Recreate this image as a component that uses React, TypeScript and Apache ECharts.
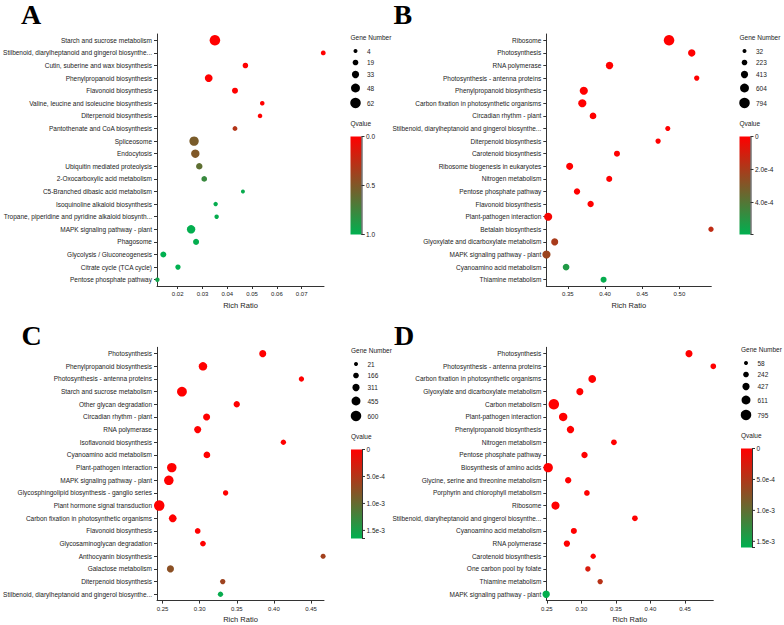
import React, { useEffect, useRef } from 'react';
import * as echarts from 'echarts';

const FONT = '"Liberation Sans", Arial, Helvetica, sans-serif';
const SERIF = '"Liberation Serif", "Times New Roman", serif';

// ---------------- Panel A ----------------
const catsA = [
  'Starch and sucrose metabolism',
  'Stilbenoid, diarylheptanoid and gingerol biosynthe...',
  'Cutin, suberine and wax biosynthesis',
  'Phenylpropanoid biosynthesis',
  'Flavonoid biosynthesis',
  'Valine, leucine and isoleucine biosynthesis',
  'Diterpenoid biosynthesis',
  'Pantothenate and CoA biosynthesis',
  'Spliceosome',
  'Endocytosis',
  'Ubiquitin mediated proteolysis',
  '2-Oxocarboxylic acid metabolism',
  'C5-Branched dibasic acid metabolism',
  'Isoquinoline alkaloid biosynthesis',
  'Tropane, piperidine and pyridine alkaloid biosynth...',
  'MAPK signaling pathway - plant',
  'Phagosome',
  'Glycolysis / Gluconeogenesis',
  'Citrate cycle (TCA cycle)',
  'Pentose phosphate pathway',
];
const ratioA = [0.0350, 0.0787, 0.0473, 0.0325, 0.0431, 0.0541, 0.0532, 0.0431, 0.0266, 0.0271, 0.0287, 0.0307, 0.0463, 0.0353, 0.0357, 0.0254, 0.0274, 0.0142, 0.0201, 0.0118];
const genesA = [62, 12, 18, 38, 22, 9, 9, 12, 52, 43, 26, 19, 4, 8, 8, 43, 22, 22, 16, 8];
const qA = [0, 0, 0, 0, 0, 0, 0, 0.3, 0.52, 0.5, 0.63, 0.78, 0.97, 0.98, 0.98, 0.99, 0.99, 1.0, 1.0, 0.93];
const xRangeA = [0.01165, 0.079];
const geneTicksA = [4, 19, 33, 48, 62];
const qTicksA = [0, 0.5, 1.0];
const qLabelsA = ['0.0', '0.5', '1.0'];
const qMaxA = 1.0;

// ---------------- Panel B ----------------
const catsB = [
  'Ribosome',
  'Photosynthesis',
  'RNA polymerase',
  'Photosynthesis - antenna proteins',
  'Phenylpropanoid biosynthesis',
  'Carbon fixation in photosynthetic organisms',
  'Circadian rhythm - plant',
  'Stilbenoid, diarylheptanoid and gingerol biosynthe...',
  'Diterpenoid biosynthesis',
  'Carotenoid biosynthesis',
  'Ribosome biogenesis in eukaryotes',
  'Nitrogen metabolism',
  'Pentose phosphate pathway',
  'Flavonoid biosynthesis',
  'Plant-pathogen interaction',
  'Betalain biosynthesis',
  'Glyoxylate and dicarboxylate metabolism',
  'MAPK signaling pathway - plant',
  'Cyanoamino acid metabolism',
  'Thiamine metabolism',
];
const ratioB = [0.486, 0.5165, 0.406, 0.5232, 0.3714, 0.3694, 0.3838, 0.4843, 0.4713, 0.416, 0.3524, 0.4056, 0.3623, 0.3806, 0.3235, 0.5424, 0.3323, 0.3212, 0.3476, 0.398];
const genesB = [794, 433, 433, 192, 513, 513, 353, 152, 192, 273, 393, 273, 313, 313, 513, 192, 393, 513, 353, 273];
const qB = [0, 0, 0, 0, 0, 0, 0, 0, 0, 0, 0, 0, 0, 0, 0.2e-4, 1.5e-4, 2.0e-4, 2.3e-4, 5.2e-4, 5.8e-4];
const xRangeB = [0.321, 0.5428];
const geneTicksB = [32, 223, 413, 604, 794];
const qTicksB = [0, 2.0e-4, 4.0e-4];
const qLabelsB = ['0', '2.0e-4', '4.0e-4'];
const qMaxB = 5.94e-4;

// ---------------- Panel C ----------------
const catsC = [
  'Photosynthesis',
  'Phenylpropanoid biosynthesis',
  'Photosynthesis - antenna proteins',
  'Starch and sucrose metabolism',
  'Other glycan degradation',
  'Circadian rhythm - plant',
  'RNA polymerase',
  'Isoflavonoid biosynthesis',
  'Cyanoamino acid metabolism',
  'Plant-pathogen interaction',
  'MAPK signaling pathway - plant',
  'Glycosphingolipid biosynthesis - ganglio series',
  'Plant hormone signal transduction',
  'Carbon fixation in photosynthetic organisms',
  'Flavonoid biosynthesis',
  'Glycosaminoglycan degradation',
  'Anthocyanin biosynthesis',
  'Galactose metabolism',
  'Diterpenoid biosynthesis',
  'Stilbenoid, diarylheptanoid and gingerol biosynthe...',
];
const ratioC = [0.3849, 0.3044, 0.437, 0.2761, 0.3499, 0.3093, 0.2973, 0.4127, 0.3097, 0.2624, 0.2584, 0.3349, 0.2455, 0.2637, 0.2973, 0.3044, 0.4662, 0.2606, 0.331, 0.328];
const genesC = [295, 417, 143, 539, 234, 295, 295, 143, 265, 509, 509, 143, 600, 356, 173, 173, 112, 295, 143, 143];
const qC = [0, 0, 0, 0, 0, 0, 0, 0, 0, 0, 0, 0, 0, 0, 0, 0, 6.0e-4, 7.5e-4, 6.3e-4, 1.6e-3];
const xRangeC = [0.2425, 0.4674];
const geneTicksC = [21, 166, 311, 455, 600];
const qTicksC = [0, 5.0e-4, 1.0e-3, 1.5e-3];
const qLabelsC = ['0', '5.0e-4', '1.0e-3', '1.5e-3'];
const qMaxC = 1.65e-3;

// ---------------- Panel D ----------------
const catsD = [
  'Photosynthesis',
  'Photosynthesis - antenna proteins',
  'Carbon fixation in photosynthetic organisms',
  'Glyoxylate and dicarboxylate metabolism',
  'Carbon metabolism',
  'Plant-pathogen interaction',
  'Phenylpropanoid biosynthesis',
  'Nitrogen metabolism',
  'Pentose phosphate pathway',
  'Biosynthesis of amino acids',
  'Glycine, serine and threonine metabolism',
  'Porphyrin and chlorophyll metabolism',
  'Ribosome',
  'Stilbenoid, diarylheptanoid and gingerol biosynthe...',
  'Cyanoamino acid metabolism',
  'RNA polymerase',
  'Carotenoid biosynthesis',
  'One carbon pool by folate',
  'Thiamine metabolism',
  'MAPK signaling pathway - plant',
];
const ratioD = [0.4558, 0.491, 0.3157, 0.2978, 0.2601, 0.2736, 0.2842, 0.3471, 0.3045, 0.2519, 0.2809, 0.308, 0.2625, 0.3775, 0.2891, 0.279, 0.3171, 0.3094, 0.3272, 0.249];
const genesD = [407, 252, 485, 407, 795, 562, 446, 252, 330, 679, 330, 252, 523, 252, 291, 330, 213, 213, 213, 446];
const qD = [0, 0, 0, 0, 0, 0, 0, 0, 0, 0, 0, 0, 0, 0, 0, 0, 0, 2.5e-4, 4.5e-4, 1.58e-3];
const xRangeD = [0.2492, 0.491];
const geneTicksD = [58, 242, 427, 611, 795];
const qTicksD = [0, 5.0e-4, 1.0e-3, 1.5e-3];
const qLabelsD = ['0', '5.0e-4', '1.0e-3', '1.5e-3'];
const qMaxD = 1.6e-3;

const letters = ['A', 'B', 'C', 'D'];

const panels = [
  { cats: catsA, ratio: ratioA, genes: genesA, q: qA, xRange: xRangeA, step: 0.01, geneTicks: geneTicksA, qTicks: qTicksA, qLabels: qLabelsA, qMax: qMaxA },
  { cats: catsB, ratio: ratioB, genes: genesB, q: qB, xRange: xRangeB, step: 0.05, geneTicks: geneTicksB, qTicks: qTicksB, qLabels: qLabelsB, qMax: qMaxB },
  { cats: catsC, ratio: ratioC, genes: genesC, q: qC, xRange: xRangeC, step: 0.05, geneTicks: geneTicksC, qTicks: qTicksC, qLabels: qLabelsC, qMax: qMaxC },
  { cats: catsD, ratio: ratioD, genes: genesD, q: qD, xRange: xRangeD, step: 0.05, geneTicks: geneTicksD, qTicks: qTicksD, qLabels: qLabelsD, qMax: qMaxD },
];

// layout (pixels)
const layout = [
  { left: 157, top: 34, width: 167, height: 252, legendX: 350.5, legendY: 37.5, barH: 98, letterX: 21, letterY: 0 },
  { left: 546.3, top: 34, width: 165, height: 252, legendX: 739.5, legendY: 37.5, barH: 98, letterX: 393.5, letterY: 0 },
  { left: 157, top: 347.3, width: 167, height: 253.3, legendX: 351, legendY: 350.5, barH: 89, letterX: 21.5, letterY: 321 },
  { left: 546.3, top: 347.3, width: 167, height: 253.3, legendX: 741, legendY: 349.5, barH: 99, letterX: 394, letterY: 321 },
];
const legendItemOffsets = [13.5, 25, 37, 50.5, 65.5];

const RED = '#FF0000';
const GREEN = '#00B050';
const AXIS = '#333333';
const TEXT = '#222222';

function sizeOf(v: number, g0: number, g1: number) {
  return 4 + 6.5 * (v - g0) / (g1 - g0);
}

export default function App() {
  const ref = useRef<HTMLDivElement>(null);
  useEffect(() => {
    const chart = echarts.init(ref.current!, null, { renderer: 'svg' });
    const grid: any[] = [];
    const xAxis: any[] = [];
    const yAxis: any[] = [];
    const series: any[] = [];
    const visualMap: any[] = [];
    const graphic: any[] = [];

    panels.forEach((p, i) => {
      const L = layout[i];
      const g0 = p.geneTicks[0];
      const g1 = p.geneTicks[p.geneTicks.length - 1];
      grid.push({ left: L.left, top: L.top, width: L.width, height: L.height, containLabel: false });
      xAxis.push({
        type: 'value', gridIndex: i, min: p.xRange[0], max: p.xRange[1],
        minInterval: p.step, maxInterval: p.step, splitNumber: 5,
        axisLine: { show: true, onZero: false, lineStyle: { color: AXIS, width: 1 } },
        axisTick: { show: true, length: 3, lineStyle: { color: AXIS } },
        axisLabel: {
          fontSize: 6, color: TEXT, margin: 5, fontFamily: FONT,
          showMinLabel: false, showMaxLabel: false,
          formatter: (v: number) => v.toFixed(2),
        },
        splitLine: { show: false },
        name: 'Rich Ratio', nameLocation: 'middle', nameGap: 15,
        nameTextStyle: { fontSize: 7.5, color: TEXT, fontFamily: FONT },
      });
      yAxis.push({
        type: 'category', gridIndex: i, data: p.cats, inverse: true,
        axisLine: { show: true, lineStyle: { color: AXIS, width: 1 } },
        axisTick: { show: true, length: 3, alignWithLabel: true, lineStyle: { color: AXIS } },
        axisLabel: { fontSize: 6.5, color: TEXT, margin: 5, fontFamily: FONT, interval: 0 },
        splitLine: { show: false },
      });
      series.push({
        type: 'scatter', xAxisIndex: i, yAxisIndex: i, clip: false,
        data: p.ratio.map((r, j) => [r, j, p.genes[j], p.q[j]]),
        symbolSize: (v: number[]) => sizeOf(v[2], g0, g1),
        itemStyle: { opacity: 1 },
      });
      visualMap.push({
        type: 'continuous', show: false, seriesIndex: i, dimension: 3,
        min: 0, max: p.qMax, inRange: { color: [RED, GREEN] },
      });

      // panel letter
      graphic.push({
        type: 'text', x: L.letterX, y: L.letterY,
        style: { text: letters[i], font: `bold 28px ${SERIF}`, fill: '#000', align: 'left', verticalAlign: 'top' },
      });
      // gene number legend
      const lx = L.legendX;
      const ly = L.legendY;
      graphic.push({
        type: 'text', x: lx, y: ly,
        style: { text: 'Gene Number', font: `6.5px ${FONT}`, fill: TEXT, align: 'left', verticalAlign: 'middle' },
      });
      p.geneTicks.forEach((g, k) => {
        const cy = ly + legendItemOffsets[k];
        graphic.push({ type: 'circle', shape: { cx: lx + 5, cy, r: sizeOf(g, g0, g1) / 2 }, style: { fill: '#000' } });
        graphic.push({
          type: 'text', x: lx + 16.5, y: cy,
          style: { text: String(g), font: `6.5px ${FONT}`, fill: TEXT, align: 'left', verticalAlign: 'middle' },
        });
      });
      // Qvalue colorbar
      graphic.push({
        type: 'text', x: lx, y: ly + 86,
        style: { text: 'Qvalue', font: `6.5px ${FONT}`, fill: TEXT, align: 'left', verticalAlign: 'middle' },
      });
      const barTop = ly + 99;
      const barH = L.barH;
      const barW = 11;
      graphic.push({
        type: 'rect', shape: { x: lx, y: barTop, width: barW, height: barH },
        style: {
          fill: { type: 'linear', x: 0, y: 0, x2: 0, y2: 1, colorStops: [{ offset: 0, color: RED }, { offset: 1, color: GREEN }] },
        },
      });
      graphic.push({ type: 'line', shape: { x1: lx + barW + 0.5, y1: barTop, x2: lx + barW + 0.5, y2: barTop + barH }, style: { stroke: AXIS, lineWidth: 1 } });
      graphic.push({ type: 'line', shape: { x1: lx + barW, y1: barTop + barH, x2: lx + barW + 3, y2: barTop + barH }, style: { stroke: AXIS, lineWidth: 1 } });
      p.qTicks.forEach((t, k) => {
        const ty = barTop + (t / p.qMax) * barH;
        graphic.push({ type: 'line', shape: { x1: lx + barW, y1: ty, x2: lx + barW + 3, y2: ty }, style: { stroke: AXIS, lineWidth: 1 } });
        graphic.push({
          type: 'text', x: lx + barW + 4.5, y: ty,
          style: { text: p.qLabels[k], font: `6.5px ${FONT}`, fill: TEXT, align: 'left', verticalAlign: 'middle' },
        });
      });
    });

    chart.setOption({
      animation: false,
      backgroundColor: '#ffffff',
      grid, xAxis, yAxis, series, visualMap, graphic,
    });
    return () => chart.dispose();
  }, []);
  return (
    <div
      ref={ref}
      style={{ position: 'fixed', left: 0, top: 0, width: 784, height: 625, background: '#fff' }}
    />
  );
}
